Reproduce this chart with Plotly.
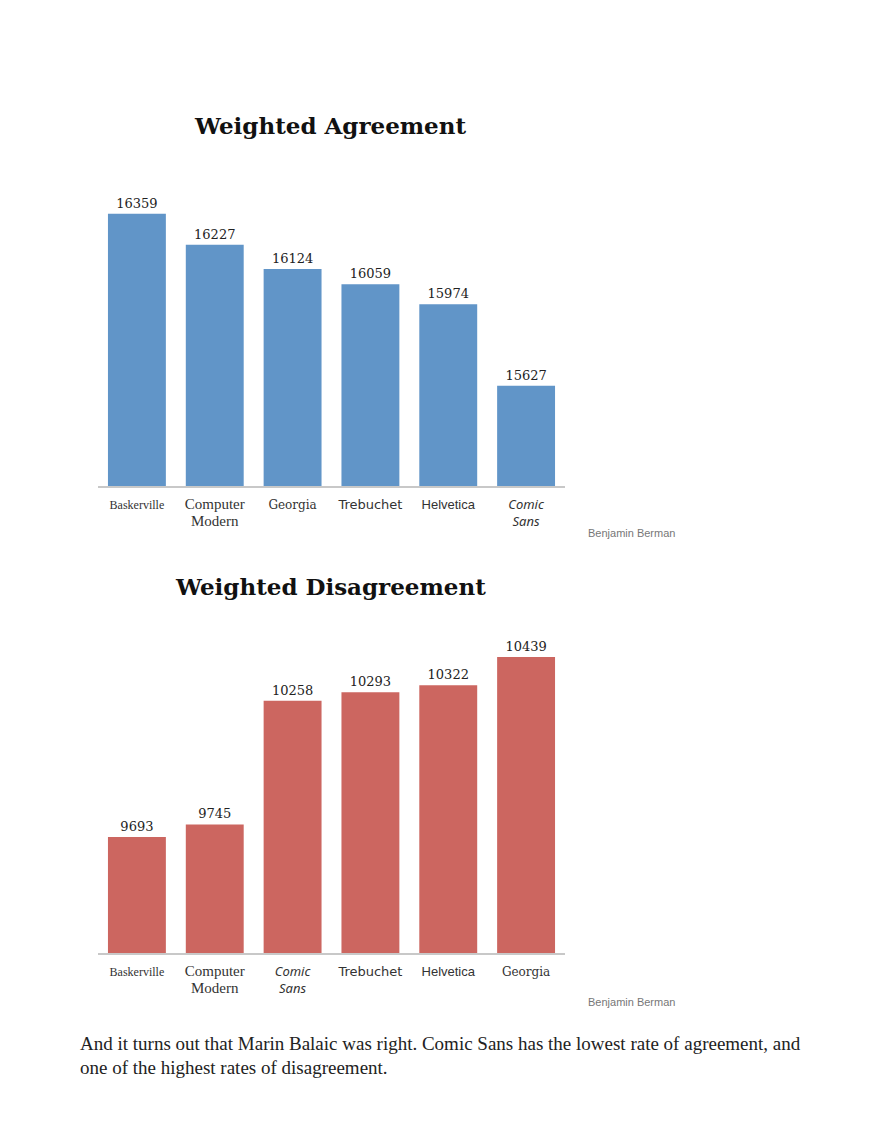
import plotly.graph_objects as go

# Weighted agreement (top chart)
agree_fonts = ["Baskerville", "Computer Modern", "Georgia", "Trebuchet", "Helvetica", "Comic Sans"]
agree_values = [16359, 16227, 16124, 16059, 15974, 15627]

# Weighted disagreement (bottom chart)
disagree_fonts = ["Baskerville", "Computer Modern", "Comic Sans", "Trebuchet", "Helvetica", "Georgia"]
disagree_values = [9693, 9745, 10258, 10293, 10322, 10439]

CREDIT = "Benjamin Berman"
BODY_LINES = [
    "And it turns out that Marin Balaic was right. Comic Sans has the lowest rate of agreement, and",
    "one of the highest rates of disagreement.",
]

_BLUE = "#6195c8"
_RED = "#cc6660"
W, H = 878, 1144
_OFF = 8  # page body margin


def px_x(x):
    return (x - _OFF) / W


def px_y(y):
    return 1 - (y - _OFF) / H


# how each category label is set, roughly mimicking the typeface it names
_LABEL_STYLE = {
    "Baskerville": ("Liberation Serif", 12, ["Baskerville"], False),
    "Computer Modern": ("Liberation Serif", 15, ["Computer", "Modern"], False),
    "Georgia": ("DejaVu Serif", 12, ["Georgia"], False),
    "Trebuchet": ("DejaVu Sans", 13, ["Trebuchet"], False),
    "Helvetica": ("Liberation Sans", 13, ["Helvetica"], False),
    "Comic Sans": ("Comic Sans MS, Noto Sans", 13, ["Comic", "Sans"], True),
}


def _ticktext(names):
    out = []
    for n in names:
        family, size, lines, italic = _LABEL_STYLE[n]
        style = f"font-family:{family};font-size:{size}px"
        if italic:
            style += ";font-style:italic"
        out.append("<br>".join(f'<span style="{style}">{ln}</span>' for ln in lines))
    return out


fig = go.Figure()

for names, vals, color, xa, ya in [
    (agree_fonts, agree_values, _BLUE, "x", "y"),
    (disagree_fonts, disagree_values, _RED, "x2", "y2"),
]:
    fig.add_trace(
        go.Bar(
            x=names,
            y=vals,
            marker={"color": color, "line": {"width": 0}},
            text=[str(v) for v in vals],
            textposition="outside",
            textfont={"family": "DejaVu Serif", "size": 13, "color": "#222"},
            cliponaxis=False,
            xaxis=xa,
            yaxis=ya,
            showlegend=False,
        )
    )

x_dom = [px_x(98), px_x(565)]
axis_common = {
    "showgrid": False,
    "zeroline": False,
    "showline": True,
    "linecolor": "#c8c8c8",
    "linewidth": 1.5,
    "ticks": "outside",
    "ticklen": 6,
    "tickcolor": "rgba(0,0,0,0)",
    "tickfont": {"color": "#333", "size": 13},
}

fig.update_layout(
    width=W,
    height=H,
    margin={"l": 0, "r": 0, "t": 0, "b": 0},
    paper_bgcolor="white",
    plot_bgcolor="white",
    bargap=0.256,
    xaxis={
        **axis_common,
        "domain": x_dom,
        "anchor": "y",
        "tickmode": "array",
        "tickvals": agree_fonts,
        "ticktext": _ticktext(agree_fonts),
    },
    yaxis={
        "domain": [px_y(486), px_y(190)],
        "range": [15200, 16460],
        "visible": False,
        "anchor": "x",
    },
    xaxis2={
        **axis_common,
        "domain": x_dom,
        "anchor": "y2",
        "tickmode": "array",
        "tickvals": disagree_fonts,
        "ticktext": _ticktext(disagree_fonts),
    },
    yaxis2={
        "domain": [px_y(953), px_y(630)],
        "range": [9212, 10551],
        "visible": False,
        "anchor": "x2",
    },
)

annotations = [
    # chart titles
    dict(text="<b>Weighted Agreement</b>", x=px_x(330), y=px_y(125),
         font={"family": "DejaVu Serif", "size": 23, "color": "#111"}),
    dict(text="<b>Weighted Disagreement</b>", x=px_x(330), y=px_y(586),
         font={"family": "DejaVu Serif", "size": 23, "color": "#111"}),
    # photo credits
    dict(text=CREDIT, x=px_x(677), y=px_y(533), xanchor="right",
         font={"family": "Liberation Sans", "size": 11, "color": "#777"}),
    dict(text=CREDIT, x=px_x(677), y=px_y(1002), xanchor="right",
         font={"family": "Liberation Sans", "size": 11, "color": "#777"}),
]
for i, line in enumerate(BODY_LINES):
    annotations.append(
        dict(text=line, x=px_x(78), y=px_y(1043 + 24 * i), xanchor="left",
             font={"family": "Liberation Serif", "size": 19, "color": "#222"})
    )
for a in annotations:
    a.setdefault("xanchor", "center")
    a.update(xref="paper", yref="paper", yanchor="middle", showarrow=False)
fig.update_layout(annotations=annotations)

fig.write_html("out.html")
